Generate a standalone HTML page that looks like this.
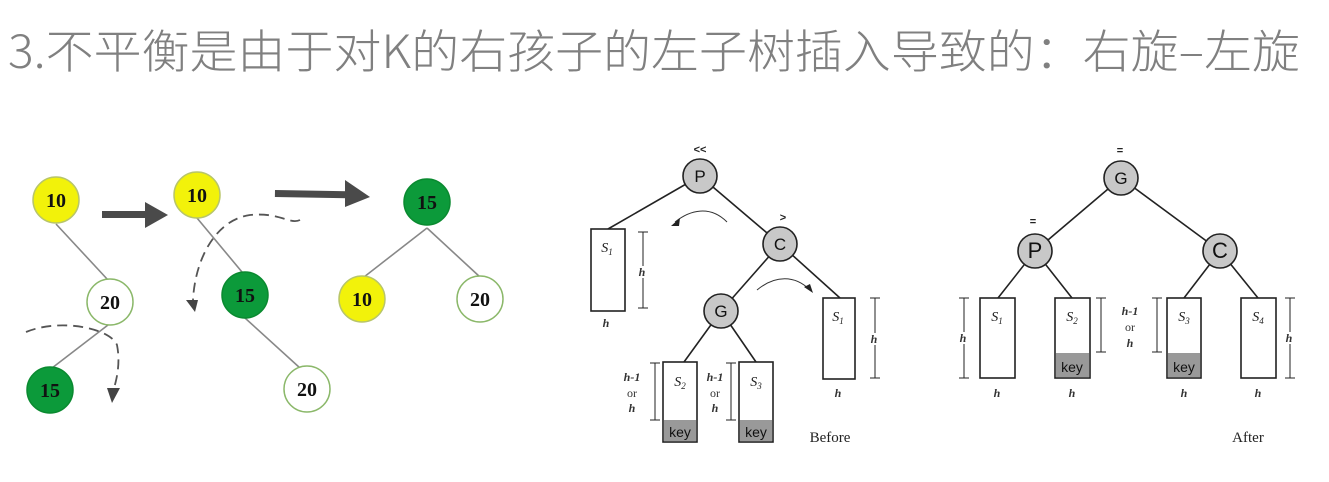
<!DOCTYPE html>
<html><head><meta charset="utf-8"><style>
html,body{margin:0;padding:0;background:#fff;width:1329px;height:482px;overflow:hidden}
svg{display:block}
.t{font-family:"Noto Sans CJK SC","Liberation Sans",sans-serif;font-weight:300;fill:#808080}
.n{font-family:"Liberation Serif",serif;font-weight:bold;font-size:20px;text-anchor:middle}
.L{font-family:"Liberation Sans",sans-serif;font-size:17px;text-anchor:middle}
.i{font-family:"Liberation Serif",serif;font-style:italic;font-weight:bold;font-size:12px;text-anchor:middle;fill:#333}
.s{font-family:"Liberation Serif",serif;font-style:italic;font-size:14px;text-anchor:middle;fill:#222}
.k{font-family:"Liberation Sans",sans-serif;font-size:14px;text-anchor:middle;fill:#111}
.b{font-family:"Liberation Serif",serif;font-size:15px;text-anchor:middle;fill:#222}
</style></head><body>
<svg width="1329" height="482" viewBox="0 0 1329 482" xmlns="http://www.w3.org/2000/svg">
<text class="t" x="8" y="68" font-size="46" textLength="1292" lengthAdjust="spacingAndGlyphs">3.不平衡是由于对K的右孩子的左子树插入导致的：右旋–左旋</text>

<g stroke="#888" stroke-width="1.6">
<line x1="56" y1="224" x2="108" y2="280"/>
<line x1="108" y1="325" x2="52" y2="368"/>
<line x1="197" y1="218" x2="242" y2="272"/>
<line x1="245" y1="318" x2="300" y2="368"/>
<line x1="427" y1="228" x2="364" y2="277"/>
<line x1="427" y1="228" x2="480" y2="277"/>
</g>
<g fill="#4a4a4a">
<rect x="102" y="211" width="45" height="7"/><polygon points="145,202 168,215 145,228"/>
<rect x="275" y="190" width="80" height="7" transform="rotate(1 275 190)"/><polygon points="345,180 370,197 345,207"/>
</g>
<g fill="none" stroke="#555" stroke-width="1.8" stroke-dasharray="10,6">
<path d="M26,332 C60,318 110,328 117,345 C120,360 118,375 114,388"/>
<path d="M300,220 C290,225 280,212 250,215 C215,220 195,260 193,300"/>
</g>
<polygon points="107,388 120,388 112,403" fill="#444"/>
<polygon points="186,300 198,300 195,312" fill="#444"/>
<g stroke-width="1.5">
<circle cx="56" cy="200" r="23" fill="#f2f20a" stroke="#b8c56a"/>
<circle cx="197" cy="195" r="23" fill="#f2f20a" stroke="#b8c56a"/>
<circle cx="427" cy="202" r="23" fill="#0c9a3a" stroke="#0a8a30"/>
<circle cx="110" cy="302" r="23" fill="#fff" stroke="#8bb86a"/>
<circle cx="50" cy="390" r="23" fill="#0c9a3a" stroke="#0a8a30"/>
<circle cx="245" cy="295" r="23" fill="#0c9a3a" stroke="#0a8a30"/>
<circle cx="307" cy="389" r="23" fill="#fff" stroke="#8bb86a"/>
<circle cx="362" cy="299" r="23" fill="#f2f20a" stroke="#b8c56a"/>
<circle cx="480" cy="299" r="23" fill="#fff" stroke="#8bb86a"/>
</g>
<g class="n" fill="#111">
<text x="56" y="207">10</text><text x="197" y="202">10</text><text x="427" y="209">15</text>
<text x="110" y="309">20</text><text x="50" y="397">15</text><text x="245" y="302">15</text>
<text x="307" y="396">20</text><text x="362" y="306">10</text><text x="480" y="306">20</text>
</g>

<g stroke="#222" stroke-width="1.6">
<line x1="700" y1="176" x2="608" y2="229"/>
<line x1="700" y1="176" x2="780" y2="244"/>
<line x1="780" y1="244" x2="721" y2="311"/>
<line x1="780" y1="244" x2="840" y2="298"/>
<line x1="721" y1="311" x2="684" y2="362"/>
<line x1="721" y1="311" x2="756" y2="362"/>
<line x1="1121" y1="178" x2="1035" y2="251"/>
<line x1="1121" y1="178" x2="1220" y2="251"/>
<line x1="1035" y1="251" x2="998" y2="298"/>
<line x1="1035" y1="251" x2="1072" y2="298"/>
<line x1="1220" y1="251" x2="1184" y2="298"/>
<line x1="1220" y1="251" x2="1258" y2="298"/>
</g>
<g fill="none" stroke="#333" stroke-width="1">
<path d="M727,222 C710,205 690,210 675,222"/>
<path d="M757,290 C775,275 795,275 810,290"/>
</g>
<polygon points="671,226 680,218 679,226" fill="#222"/>
<polygon points="813,293 804,287 810,284" fill="#222"/>
<g stroke="#222" stroke-width="1.6" fill="#fff">
<rect x="591" y="229" width="34" height="82"/>
<rect x="823" y="298" width="32" height="81"/>
<rect x="663" y="362" width="34" height="80"/>
<rect x="739" y="362" width="34" height="80"/>
<rect x="980" y="298" width="35" height="80"/>
<rect x="1055" y="298" width="35" height="80"/>
<rect x="1167" y="298" width="34" height="80"/>
<rect x="1241" y="298" width="35" height="80"/>
</g>
<g fill="#999">
<rect x="664" y="420" width="32" height="21"/>
<rect x="740" y="420" width="32" height="21"/>
<rect x="1056" y="353" width="33" height="24"/>
<rect x="1168" y="353" width="32" height="24"/>
</g>
<g class="k">
<text x="680" y="437">key</text><text x="756" y="437">key</text>
<text x="1072" y="372">key</text><text x="1184" y="372">key</text>
</g>
<g class="s">
<text x="607" y="252">S<tspan font-size="9" dy="3">1</tspan></text>
<text x="838" y="321">S<tspan font-size="9" dy="3">1</tspan></text>
<text x="680" y="386">S<tspan font-size="9" dy="3">2</tspan></text>
<text x="756" y="386">S<tspan font-size="9" dy="3">3</tspan></text>
<text x="997" y="321">S<tspan font-size="9" dy="3">1</tspan></text>
<text x="1072" y="321">S<tspan font-size="9" dy="3">2</tspan></text>
<text x="1184" y="321">S<tspan font-size="9" dy="3">3</tspan></text>
<text x="1258" y="321">S<tspan font-size="9" dy="3">4</tspan></text>
</g>
<g stroke="#222" stroke-width="1">
<path d="M643,232V308M638,232H648M638,308H648"/>
<path d="M875,298V378M870,298H880M870,378H880"/>
<path d="M655,363V420M650,363H660M650,420H660"/>
<path d="M731,363V420M726,363H736M726,420H736"/>
<path d="M964,298V378M959,298H969M959,378H969"/>
<path d="M1101,298V352M1096,298H1106M1096,352H1106"/>
<path d="M1157,298V352M1152,298H1162M1152,352H1162"/>
<path d="M1290,298V378M1285,298H1295M1285,378H1295"/>
</g>
<g class="i">
<text x="642" y="276" fill="#fff" stroke="#fff" stroke-width="4">h</text><text x="642" y="276">h</text>
<text x="874" y="343" fill="#fff" stroke="#fff" stroke-width="4">h</text><text x="874" y="343">h</text>
<text x="963" y="342" fill="#fff" stroke="#fff" stroke-width="4">h</text><text x="963" y="342">h</text>
<text x="1289" y="342" fill="#fff" stroke="#fff" stroke-width="4">h</text><text x="1289" y="342">h</text>
<text x="606" y="327">h</text><text x="838" y="397">h</text>
<text x="997" y="397">h</text><text x="1072" y="397">h</text><text x="1184" y="397">h</text><text x="1258" y="397">h</text>
<text x="632" y="381">h-1</text><text x="632" y="397" font-style="normal" font-weight="normal">or</text><text x="632" y="412">h</text>
<text x="715" y="381">h-1</text><text x="715" y="397" font-style="normal" font-weight="normal">or</text><text x="715" y="412">h</text>
<text x="1130" y="315">h-1</text><text x="1130" y="331" font-style="normal" font-weight="normal">or</text><text x="1130" y="347">h</text>
</g>
<g fill="#c8c8c8" stroke="#222" stroke-width="1.6">
<circle cx="700" cy="176" r="17"/><circle cx="780" cy="244" r="17"/><circle cx="721" cy="311" r="17"/>
<circle cx="1121" cy="178" r="17"/><circle cx="1035" cy="251" r="17"/><circle cx="1220" cy="251" r="17"/>
</g>
<g class="L" fill="#111">
<text x="700" y="182">P</text><text x="780" y="250">C</text><text x="721" y="317">G</text>
<text x="1121" y="184">G</text><text x="1035" y="258" font-size="22">P</text><text x="1220" y="258" font-size="22">C</text>
</g>
<g font-family="Liberation Sans,sans-serif" font-size="11" font-weight="bold" text-anchor="middle" fill="#222">
<text x="700" y="153">&lt;&lt;</text><text x="783" y="221">&gt;</text>
<text x="1120" y="154">=</text><text x="1033" y="225">=</text>
</g>
<text class="b" x="830" y="442">Before</text>
<text class="b" x="1248" y="442">After</text>
</svg>
</body></html>
